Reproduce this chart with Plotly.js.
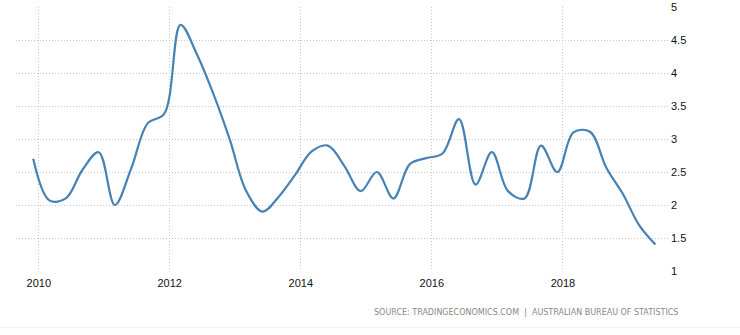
<!DOCTYPE html>
<html>
<head>
<meta charset="utf-8">
<script src="https://cdn.plot.ly/plotly-3.0.1.min.js"></script>
<style>html,body{margin:0;padding:0;background:#fff;}#chart{width:740px;height:335px;}</style>
</head>
<body>
<div id="chart"></div>
<script>
var dates = ["2009-12-01","2010-03-01","2010-06-01","2010-09-01","2010-12-01","2011-03-01","2011-06-01","2011-09-01","2011-12-01","2012-03-01","2012-06-01","2012-09-01","2012-12-01","2013-03-01","2013-06-01","2013-09-01","2013-12-01","2014-03-01","2014-06-01","2014-09-01","2014-12-01","2015-03-01","2015-06-01","2015-09-01","2015-12-01","2016-03-01","2016-06-01","2016-09-01","2016-12-01","2017-03-01","2017-06-01","2017-09-01","2017-12-01","2018-03-01","2018-06-01","2018-09-01","2018-12-01","2019-03-01","2019-06-01"];
var values = [2.70,2.07,2.10,2.53,2.80,2.00,2.56,3.24,3.38,4.73,4.28,3.68,2.99,2.22,1.90,2.13,2.46,2.81,2.90,2.59,2.21,2.50,2.10,2.62,2.71,2.78,3.30,2.31,2.80,2.21,2.10,2.90,2.50,3.10,3.11,2.56,2.17,1.70,1.40];
var xTickVals = ["2010-01-01","2012-01-01","2014-01-01","2016-01-01","2018-01-01"];
var xTickText = ["2010","2012","2014","2016","2018"];
var yTickVals = [1,1.5,2,2.5,3,3.5,4,4.5,5];
var yTickText = ["1","1.5","2","2.5","3","3.5","4","4.5","5"];
var sourceText = "SOURCE: TRADINGECONOMICS.COM  |  AUSTRALIAN BUREAU OF STATISTICS";

var trace = {
  x: dates, y: values, type: "scatter", mode: "lines",
  line: {color: "#4682b4", width: 2.2, shape: "spline", smoothing: 1},
  hoverinfo: "skip"
};
var layout = {
  width: 740, height: 335,
  margin: {l: 16, r: 72, t: 7, b: 64},
  paper_bgcolor: "#fff", plot_bgcolor: "#fff",
  showlegend: false,
  font: {family: "Liberation Sans, Arial, sans-serif", size: 11, color: "#222"},
  xaxis: {
    type: "date", range: ["2009-08-27","2019-08-10"],
    tickmode: "array", tickvals: xTickVals, ticktext: xTickText,
    showgrid: true, gridcolor: "#c8c8c8", griddash: "1px,2px", gridwidth: 1,
    zeroline: false, showline: false, ticks: "", ticklabelstandoff: 4,
    tickfont: {size: 11, color: "#111"}
  },
  yaxis: {
    side: "right", range: [1,5],
    tickmode: "array", tickvals: yTickVals, ticktext: yTickText,
    showgrid: true, gridcolor: "#c8c8c8", griddash: "1px,2px", gridwidth: 1,
    zeroline: false, showline: false, ticks: "", ticklabelstandoff: 2,
    tickfont: {size: 11, color: "#111"}
  },
  annotations: [{
    text: sourceText, xref: "paper", yref: "paper", x: 1.018, y: -0.158,
    xanchor: "right", yanchor: "middle", showarrow: false,
    font: {size: 8, color: "#888", family: "DejaVu Sans, sans-serif"}
  }],
  shapes: [{type: "line", xref: "paper", yref: "paper", x0: -0.03, x1: 1.12, y0: -0.215, y1: -0.215,
    line: {color: "#eeeeee", width: 1}}]
};
Plotly.newPlot("chart", [trace], layout, {staticPlot: true, displayModeBar: false});
</script>
</body>
</html>
